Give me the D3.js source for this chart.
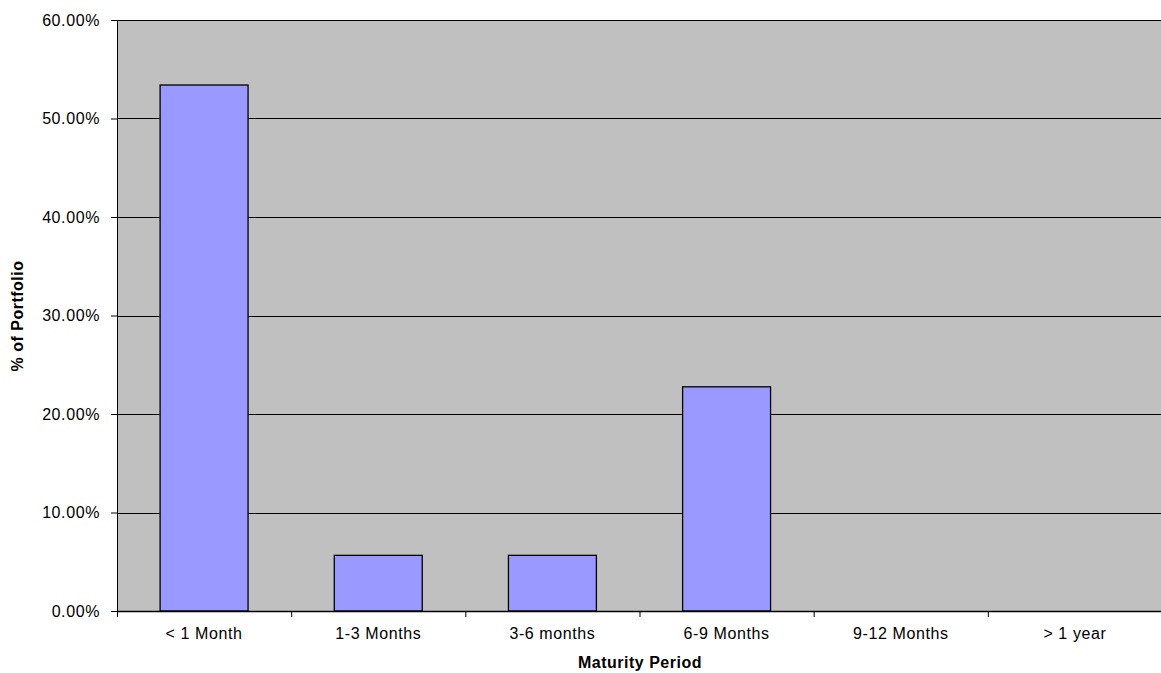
<!DOCTYPE html>
<html>
<head>
<meta charset="utf-8">
<script src="https://cdn.jsdelivr.net/npm/d3@7"></script>
<style>
  body { margin: 0; background: #fff; }
  text { font-family: "Liberation Sans", Arial, sans-serif; }
</style>
</head>
<body>
<svg id="svg"></svg>
<script>
let categories = ["< 1 Month", "1-3 Months", "3-6 months", "6-9 Months", "9-12 Months", "> 1 year"];
let values = [0.534, 0.0565, 0.0565, 0.2276, 0, 0];
let yTicks = [0, 0.1, 0.2, 0.3, 0.4, 0.5, 0.6];

let width = 1161, height = 673;
let margin = {top: 20, right: -1, bottom: 62, left: 117};

let svg = d3.select("#svg").attr("width", width).attr("height", height);

let x = d3.scaleBand()
    .domain(categories)
    .range([margin.left, width - margin.right])
    .paddingInner(0.495).paddingOuter(0.2475);
// band edges for ticks
let xb = d3.scaleBand().domain(categories).range([margin.left, width - margin.right]);

let y = d3.scaleLinear()
    .domain([0, 0.6])
    .range([height - margin.bottom, margin.top]);

// plot background
svg.append("rect")
    .attr("x", margin.left).attr("y", margin.top)
    .attr("width", width - margin.right - margin.left)
    .attr("height", y(0) - margin.top)
    .attr("fill", "#c0c0c0");

// gridlines
svg.append("g").selectAll("line")
    .data(yTicks.slice(1))
    .join("line")
    .attr("x1", margin.left).attr("x2", width)
    .attr("y1", d => Math.round(y(d)) + 0.5).attr("y2", d => Math.round(y(d)) + 0.5)
    .attr("stroke", "#000").attr("stroke-width", 1);

// bars
svg.append("g").selectAll("rect")
    .data(values.map((v, i) => ({cat: categories[i], v: v})).filter(d => d.v > 0))
    .join("rect")
    .attr("x", d => x(d.cat))
    .attr("width", x.bandwidth())
    .attr("y", d => y(d.v))
    .attr("height", d => y(0) - y(d.v))
    .attr("fill", "#9999ff")
    .attr("stroke", "#000")
    .attr("stroke-width", 1.3);

// y axis
let yAxis = svg.append("g")
    .attr("transform", `translate(${margin.left},0)`)
    .call(d3.axisLeft(y).tickValues(yTicks).tickFormat(d3.format(".2%")).tickSizeOuter(0).tickSize(6).tickPadding(11));
yAxis.select(".domain").attr("stroke", "#000");
yAxis.selectAll("text")
    .attr("font-size", 16).attr("fill", "#000").style("letter-spacing", "0.6px");

// x axis
let xAxis = svg.append("g")
    .attr("transform", `translate(0,${y(0)})`)
    .call(d3.axisBottom(xb).tickSize(0).tickSizeOuter(0).tickPadding(17));
xAxis.select(".domain").attr("stroke", "#000").attr("stroke-width", 1.5);
xAxis.selectAll("text")
    .attr("font-size", 16).attr("fill", "#000").style("letter-spacing", "0.6px");

// x ticks at band boundaries
svg.append("g").selectAll("line")
    .data(categories)
    .join("line")
    .attr("x1", d => xb(d) + 0.5).attr("x2", d => xb(d) + 0.5)
    .attr("y1", y(0)).attr("y2", y(0) + 6)
    .attr("stroke", "#000");

// axis titles
svg.append("text")
    .attr("x", (margin.left + width) / 2 + 1)
    .attr("y", 668)
    .attr("text-anchor", "middle")
    .attr("font-size", 16).attr("font-weight", "bold")
    .style("letter-spacing", "0.5px")
    .text("Maturity Period");

svg.append("text")
    .attr("transform", "translate(23,316) rotate(-90)")
    .attr("text-anchor", "middle")
    .attr("font-size", 16).attr("font-weight", "bold")
    .style("letter-spacing", "0.5px")
    .text("% of Portfolio");
</script>
</body>
</html>
